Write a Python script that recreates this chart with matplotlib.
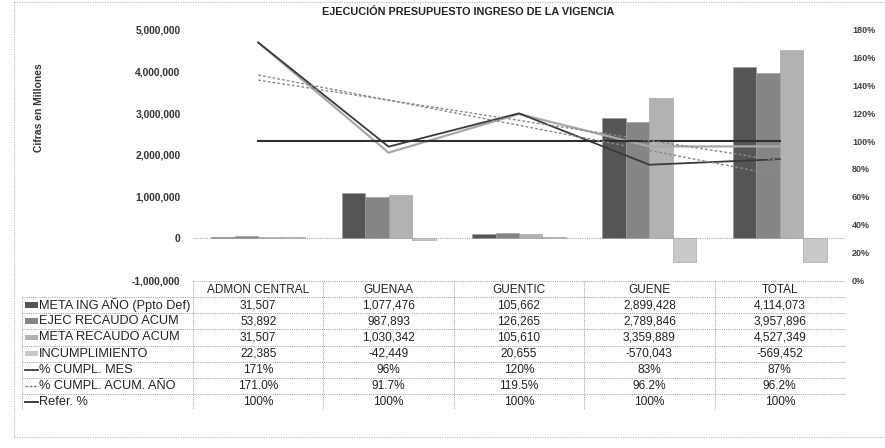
import numpy as np
import matplotlib
matplotlib.use("Agg")
import matplotlib.pyplot as plt
from matplotlib.ticker import FuncFormatter

plt.rcParams['font.family'] = ['Liberation Sans', 'DejaVu Sans']

# datos del reporte
categorias = ["ADMON CENTRAL", "GUENAA", "GUENTIC", "GUENE", "TOTAL"]
meta_ing = [31507, 1077476, 105662, 2899428, 4114073]
ejec_recaudo = [53892, 987893, 126265, 2789846, 3957896]
meta_recaudo = [31507, 1030342, 105610, 3359889, 4527349]
incumplimiento = [22385, -42449, 20655, -570043, -569452]
cumpl_mes = [171, 96, 120, 83, 87]
cumpl_acum = [171.0, 91.7, 119.5, 96.2, 96.2]
refer = [100, 100, 100, 100, 100]

W, H = 885, 448
fig = plt.figure(figsize=(W / 100, H / 100), dpi=100)

def fx(px):
    return px / W

def fy(py):
    return 1 - py / H

# area del grafico
x0, x1 = 193, 845
ytop, ybot = 30, 280
ax = fig.add_axes([fx(x0), fy(ybot), fx(x1 - x0), (ybot - ytop) / H])
ax2 = ax.twinx()

x = np.arange(len(categorias))
bw = 0.18
barras = [
    (meta_ing, "#555555"),
    (ejec_recaudo, "#858585"),
    (meta_recaudo, "#b2b2b2"),
    (incumplimiento, "#c9c9c9"),
]
for i, (vals, col) in enumerate(barras):
    ax.bar(x + (i - 1.5) * bw, vals, bw, color=col, edgecolor="#9a9a9a",
           linewidth=0.4, zorder=2)

ax.axhline(0, color="#aaaaaa", lw=0.8, ls=(0, (1, 1)), zorder=1)
ax.set_xlim(-0.5, len(categorias) - 0.5)
ax.set_ylim(-1000000, 5000000)
ax.set_yticks(np.arange(-1000000, 5000001, 1000000))
ax.yaxis.set_major_formatter(FuncFormatter(lambda v, p: f"{v:,.0f}"))
ax.tick_params(axis="y", length=0, pad=9, labelsize=7.4, labelcolor="#333333")
for lab in ax.get_yticklabels():
    lab.set_fontweight("bold")
ax.set_xticks([])

# lineas de porcentaje
ax2.plot(x, cumpl_acum, color="#a8a8a8", lw=1.6)
ax2.plot(x, cumpl_mes, color="#3a3a3a", lw=1.3)
ax2.plot(x, refer, color="#2e2e2e", lw=1.5)
for serie in (cumpl_mes, cumpl_acum):
    k, d = np.polyfit(x, serie, 1)
    ax2.plot(x, k * x + d, color="#8a8a8a", lw=1.0, ls=(0, (2, 1.5)))
ax2.set_ylim(0, 180)
ax2.set_yticks(np.arange(0, 181, 20))
ax2.yaxis.set_major_formatter(FuncFormatter(lambda v, p: f"{v:.0f}%"))
ax2.tick_params(axis="y", length=0, pad=5, labelsize=6.5, labelcolor="#444444")
for lab in ax2.get_yticklabels():
    lab.set_fontweight("bold")

for a in (ax, ax2):
    for s in a.spines.values():
        s.set_visible(False)

fig.text(fx(468), fy(12), "EJECUCIÓN PRESUPUESTO INGRESO DE LA VIGENCIA",
         ha="center", va="center", fontsize=7.8, fontweight="bold", color="#222222")
fig.text(fx(39), fy(108), "Cifras en Millones", rotation=90, ha="center",
         va="center", fontsize=7.4, fontweight="bold", color="#333333")

# tabla de datos
tl, tt, tb = 22, 281, 410
colw = (x1 - x0) / len(categorias)
lblw = (x0 - tl) / colw
tax = fig.add_axes([fx(tl), fy(tb), fx(x1 - tl), (tb - tt) / H])
tax.set_xlim(-0.5 - lblw, len(categorias) - 0.5)
tax.set_ylim(8, 0)
tax.axis("off")

filas = [
    ("META ING AÑO (Ppto Def)", [f"{v:,}" for v in meta_ing], "bar", "#555555"),
    ("EJEC RECAUDO ACUM", [f"{v:,}" for v in ejec_recaudo], "bar", "#858585"),
    ("META RECAUDO ACUM", [f"{v:,}" for v in meta_recaudo], "bar", "#b2b2b2"),
    ("INCUMPLIMIENTO", [f"{v:,}" for v in incumplimiento], "bar", "#c9c9c9"),
    ("% CUMPL. MES", [f"{v:.0f}%" for v in cumpl_mes], "line", "#3a3a3a"),
    ("% CUMPL. ACUM. AÑO", [f"{v:.1f}%" for v in cumpl_acum], "dash", "#7a7a7a"),
    ("Refer. %", [f"{v:.0f}%" for v in refer], "line", "#2e2e2e"),
]

lc = "#9c9c9c"
ls = (0, (1, 1.2))
left = -0.5 - lblw
right = len(categorias) - 0.5
tax.plot([-0.5, right], [0, 0], color=lc, lw=0.7, ls=ls)
for r in range(1, 9):
    tax.plot([left, right], [r, r], color=lc, lw=0.7, ls=ls)
tax.plot([left, left], [1, 8], color=lc, lw=0.7, ls=ls)
for c in range(len(categorias) + 1):
    tax.plot([c - 0.5, c - 0.5], [0, 8], color=lc, lw=0.7, ls=ls)

for j, cat in enumerate(categorias):
    tax.text(j, 0.55, cat, ha="center", va="center", fontsize=8.5, color="#222222")

sw0 = left + 3 / colw
sw1 = left + 16 / colw
for i, (nombre, vals, tipo, col) in enumerate(filas):
    yc = i + 1.5
    if tipo == "bar":
        tax.add_patch(plt.Rectangle((sw0, yc - 0.18), sw1 - sw0, 0.36,
                                    color=col, lw=0))
    elif tipo == "dash":
        tax.plot([sw0, sw1], [yc, yc], color=col, lw=1.0, ls=(0, (2, 1)))
    else:
        tax.plot([sw0, sw1], [yc, yc], color=col, lw=1.3)
    tax.text(sw1 + 1 / colw, yc, nombre, ha="left", va="center", fontsize=9.2,
             color="#222222")
    for j, v in enumerate(vals):
        tax.text(j, yc, v, ha="center", va="center", fontsize=8.6, color="#222222")

# borde del area de grafico
bax = fig.add_axes([0, 0, 1, 1])
bax.set_xlim(0, W)
bax.set_ylim(H, 0)
bax.axis("off")
bc = "#b5b5b5"
bax.plot([14, 14], [2, 437], color=bc, lw=0.8, ls=ls)
bax.plot([14, W], [2, 2], color=bc, lw=0.8, ls=ls)
bax.plot([14, W], [437, 437], color=bc, lw=0.8, ls=ls)

fig.savefig("out.png", dpi=100)
